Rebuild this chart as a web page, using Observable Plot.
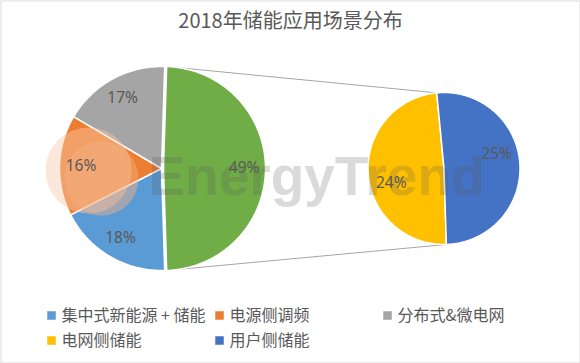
<!DOCTYPE html>
<html><head><meta charset="utf-8">
<script src="https://cdn.jsdelivr.net/npm/d3@7"></script>
<script src="https://cdn.jsdelivr.net/npm/@observablehq/plot@0.6"></script>
<style>body{margin:0;background:#fff}</style>
</head><body><div id="chart"></div>
<script>
// ---- data ----
const title = "2018年储能应用场景分布";
const mainCategories = ["集中式新能源 + 储能", "电源侧调频", "分布式&微电网"];
const mainValues = [18, 16, 17];
const mainColors = ["#5b9bd5", "#ed7d31", "#a5a5a5"];
const subCategories = ["电网侧储能", "用户侧储能"];
const subValues = [24, 25];
const subColors = ["#ffc000", "#4472c4"];
const otherColor = "#70ad47";
const watermark = "EnergyTrend";

// ---- layout ----
const W = 580, H = 363;
const deg = Math.PI / 180;
const mainPie = {cx: 161, cy: 168, r: 102};
const subPie = {cx: 443.5, cy: 168, r: 76};
const fontCJK = "'Noto Sans CJK SC', 'Noto Sans', sans-serif";
const fontLbl = "'Noto Sans', 'Noto Sans CJK SC', sans-serif";

const otherValue = d3.sum(subValues);
const total = otherValue + d3.sum(mainValues);
const otherSpan = otherValue / total * 2 * Math.PI;
const mainStart = Math.PI / 2 - otherSpan / 2;

const mainItems = [{key: "other", value: otherValue, color: otherColor, dx: 2},
  ...mainCategories.map((c, i) => ({key: c, value: mainValues[i], color: mainColors[i], dx: 0}))];
const mainArcs = d3.pie().sort(null).value(d => d.value)
  .startAngle(mainStart).endAngle(mainStart + 2 * Math.PI)(mainItems);

const subStart = 178.2 * deg;
const subItems = subCategories.map((c, i) => ({key: c, value: subValues[i], color: subColors[i], dx: 0}));
const subArcs = d3.pie().sort(null).value(d => d.value)
  .startAngle(subStart).endAngle(subStart + 2 * Math.PI)(subItems);

const pt = (p, a, rr, dx = 0) => ({x: p.cx + dx + rr * Math.sin(a), y: p.cy - rr * Math.cos(a)});

function slicePolys(arcs, p, prefix) {
  const rows = [];
  arcs.forEach((a, i) => {
    const id = prefix + i, dx = a.data.dx;
    rows.push({id, color: a.data.color, ...pt(p, 0, 0, dx)});
    const n = Math.max(2, Math.ceil((a.endAngle - a.startAngle) / deg));
    for (let k = 0; k <= n; k++) {
      const ang = a.startAngle + (a.endAngle - a.startAngle) * k / n;
      rows.push({id, color: a.data.color, ...pt(p, ang, p.r, dx)});
    }
  });
  return rows;
}
const polys = [...slicePolys(mainArcs, mainPie, "m"), ...slicePolys(subArcs, subPie, "s")];

const pct = v => Math.round(v / total * 100) + "%";
const labels = [
  ...mainArcs.map(a => ({text: pct(a.value), ...pt(mainPie, (a.startAngle + a.endAngle) / 2, mainPie.r * 0.79, a.data.dx)})),
  ...subArcs.map(a => ({text: pct(a.value), ...pt(subPie, (a.startAngle + a.endAngle) / 2 - 12 * deg, subPie.r * 0.72)}))
];

// connector lines: from the split slice edges to the secondary pie's split
const oa = mainArcs[0];
const blueArc = subArcs[1];
const connectors = [
  {id: "top", ...pt(mainPie, oa.startAngle, mainPie.r, oa.data.dx)},
  {id: "top", ...pt(subPie, blueArc.startAngle, subPie.r)},
  {id: "bot", ...pt(mainPie, oa.endAngle, mainPie.r, oa.data.dx)},
  {id: "bot", ...pt(subPie, blueArc.endAngle, subPie.r)}
];

// legend
const legendItems = [
  ...mainCategories.map((c, i) => ({label: c, color: mainColors[i]})),
  ...subCategories.map((c, i) => ({label: c, color: subColors[i]}))
].map((d, i) => ({...d, x: 51 + (i % 3) * 168, y: 315 + Math.floor(i / 3) * 25}));

const chart = Plot.plot({
  width: W, height: H,
  margin: 0,
  x: {type: "linear", domain: [0, W], range: [0, W], axis: null},
  y: {type: "linear", domain: [0, H], range: [0, H], axis: null},
  color: {type: "identity"},
  marks: [
    Plot.frame({stroke: "#d9d9d9", inset: 0.5}),
    Plot.line(connectors, {x: "x", y: "y", z: "id", stroke: "#a6a6a6", strokeWidth: 1}),
    Plot.line(polys, {x: "x", y: "y", z: "id", fill: "color", stroke: "white", strokeWidth: 1.5, curve: "linear-closed", strokeLinejoin: "round"}),
    // watermark logo
    Plot.dot([{x: 88, y: 170}], {x: "x", y: "y", r: 43, fill: "#f8cbad", fillOpacity: 0.45, stroke: null}),
    Plot.dot([{x: 101, y: 178}], {x: "x", y: "y", r: 37, fill: "#f4b183", fillOpacity: 0.45, stroke: null}),
    Plot.text([watermark], {x: 316, y: 177, text: d => d, fontSize: 55, fontWeight: "bold", fill: "#555", fillOpacity: 0.22, fontFamily: "'Liberation Sans', Arial, sans-serif", textAnchor: "middle"}),
    Plot.text(labels, {x: "x", y: "y", text: "text", fontSize: 15.5, fill: "#595959", fontFamily: fontLbl}),
    Plot.text([title], {x: W / 2, y: 21, text: d => d, fontSize: 20, fill: "#595959", fontFamily: fontCJK}),
    Plot.dot(legendItems, {x: "x", y: "y", symbol: "square", r: 4.8, fill: "color", stroke: null}),
    Plot.text(legendItems, {x: d => d.x + 10, y: "y", text: "label", textAnchor: "start", fontSize: 16, fill: "#595959", fontFamily: fontCJK})
  ]
});
document.getElementById("chart").appendChild(chart);
</script>
</body></html>
